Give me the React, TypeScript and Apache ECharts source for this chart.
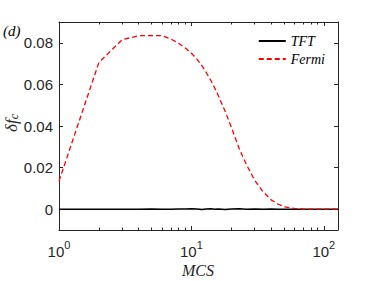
import React, { useEffect, useRef } from "react";
import * as echarts from "echarts";

const mcs = [1, 2, 3, 4, 5, 6, 7, 8, 9, 10, 11, 12, 13, 14, 15, 16, 18, 20, 23, 26, 30, 35, 40, 45, 50, 60, 70, 80, 100, 128];
const fermi = [0.0135, 0.0705, 0.0815, 0.0834, 0.0835, 0.0834, 0.0818, 0.0798, 0.0775, 0.075, 0.0722, 0.069, 0.0655, 0.062, 0.0583, 0.0545, 0.047, 0.0395, 0.029, 0.0215, 0.014, 0.0082, 0.0045, 0.0025, 0.0012, 0.0004, 0.0001, 0, 0, 0];
const tft = [0, 0, 0, 0, 0.0001, 0, 0, 0.0001, 0.0001, 0.0002, 0.0001, -0.0002, 0.0001, 0.0002, 0, 0.0001, -0.0001, 0.0001, 0.0002, 0, 0.0001, 0, 0.0001, 0, 0, 0, 0, 0, 0, 0];
const xMajor = [1, 10, 100];
const xMinor = [2, 3, 4, 5, 6, 7, 8, 9, 20, 30, 40, 50, 60, 70, 80, 90];
const yTicks = [0, 0.02, 0.04, 0.06, 0.08];
const xMaxVal = 128;

const AX = "#262626";

export default function App() {
  const ref = useRef<HTMLDivElement>(null);
  useEffect(() => {
    const chart = echarts.init(ref.current!, null, { renderer: "svg" });
    const xMin = 0;
    const xMax = Math.log10(xMaxVal);
    const majorLog = xMajor.map((v) => Math.log10(v));
    const minorLog = xMinor.map((v) => Math.log10(v));
    const baseX = (pos: "bottom" | "top", ticks: number[], len: number, labels: boolean, line: boolean) => ({
      type: "value",
      position: pos,
      min: xMin,
      max: xMax,
      axisLine: { show: line, onZero: false, lineStyle: { color: AX, width: 1 } },
      axisTick: { show: true, inside: true, length: len, customValues: ticks, lineStyle: { color: AX, width: 1 } },
      axisLabel: labels
        ? {
            show: true,
            customValues: ticks,
            margin: 9,
            color: AX,
            fontFamily: "Liberation Sans",
            fontSize: 15,
            formatter: (v: number) => `{b|10}{s|${Math.round(v)}}`,
            rich: {
              b: { fontFamily: "Liberation Sans", fontSize: 15, color: AX, verticalAlign: "bottom" },
              s: { fontFamily: "Liberation Sans", fontSize: 11, color: AX, verticalAlign: "top", padding: [0, 0, 9, 0] },
            },
          }
        : { show: false },
      splitLine: { show: false },
    });
    chart.setOption({
      animation: false,
      backgroundColor: "#ffffff",
      grid: { left: 59, right: 36, top: 22, bottom: 51, containLabel: false, outerBoundsMode: "none" },
      legend: {
        orient: "vertical",
        right: 44,
        top: 29,
        itemWidth: 27,
        itemHeight: 8,
        itemGap: 4,
        itemStyle: { opacity: 0 },
        textStyle: { fontFamily: "Liberation Serif", fontStyle: "italic", fontSize: 14, color: "#000" },
        data: ["TFT", "Fermi"],
      },
      graphic: [
        {
          type: "text",
          left: 3,
          top: 23,
          style: { text: "(d)", fontFamily: "Liberation Serif", fontStyle: "italic", fontSize: 15, fill: "#000" },
        },
        {
          type: "text",
          x: 11,
          y: 123,
          rotation: Math.PI / 2,
          style: {
            text: "{a|δf}{c|c}",
            align: "center",
            verticalAlign: "middle",
            rich: {
              a: { fontFamily: "Liberation Serif", fontStyle: "italic", fontSize: 17, fill: AX },
              c: { fontFamily: "Liberation Serif", fontStyle: "italic", fontSize: 12, fill: AX, verticalAlign: "bottom" },
            },
          },
        },
        {
          type: "text",
          x: 198,
          y: 270,
          style: {
            text: "MCS",
            align: "center",
            verticalAlign: "middle",
            fontFamily: "Liberation Serif",
            fontStyle: "italic",
            fontSize: 16,
            fill: AX,
          },
        },
      ],
      xAxis: [
        baseX("bottom", majorLog, 4, true, true),
        baseX("bottom", minorLog, 2.5, false, false),
        baseX("top", majorLog, 4, false, true),
        baseX("top", minorLog, 2.5, false, false),
      ],
      yAxis: [
        {
          type: "value",
          position: "left",
          min: -0.01,
          max: 0.09,
          axisLine: { show: true, onZero: false, lineStyle: { color: AX, width: 1 } },
          axisTick: { show: true, inside: true, length: 4, customValues: yTicks, lineStyle: { color: AX } },
          axisLabel: {
            customValues: yTicks,
            margin: 6,
            color: AX,
            fontFamily: "Liberation Sans",
            fontSize: 15,
            formatter: (v: number) => (Math.abs(v) < 1e-9 ? "0" : v.toFixed(2)),
          },
          splitLine: { show: false },
        },
        {
          type: "value",
          position: "right",
          min: -0.01,
          max: 0.09,
          axisLine: { show: true, onZero: false, lineStyle: { color: AX, width: 1 } },
          axisTick: { show: true, inside: true, length: 4, customValues: yTicks, lineStyle: { color: AX } },
          axisLabel: { show: false },
          splitLine: { show: false },
        },
      ],
      series: [
        {
          name: "TFT",
          type: "line",
          symbol: "none",
          xAxisIndex: 0,
          yAxisIndex: 0,
          lineStyle: { color: "#000000", width: 1.5 },
          itemStyle: { color: "#000000" },
          data: mcs.map((m, i) => [Math.log10(m), tft[i]]),
          z: 3,
        },
        {
          name: "Fermi",
          type: "line",
          symbol: "none",
          xAxisIndex: 0,
          yAxisIndex: 0,
          lineStyle: { color: "#ff0000", width: 1.3, type: [5, 3] },
          itemStyle: { color: "#ff0000" },
          data: mcs.map((m, i) => [Math.log10(m), fermi[i]]),
          z: 4,
        },
      ],
    });
    return () => chart.dispose();
  }, []);
  return <div ref={ref} style={{ position: "absolute", left: 0, top: 0, width: 374, height: 281 }} />;
}
